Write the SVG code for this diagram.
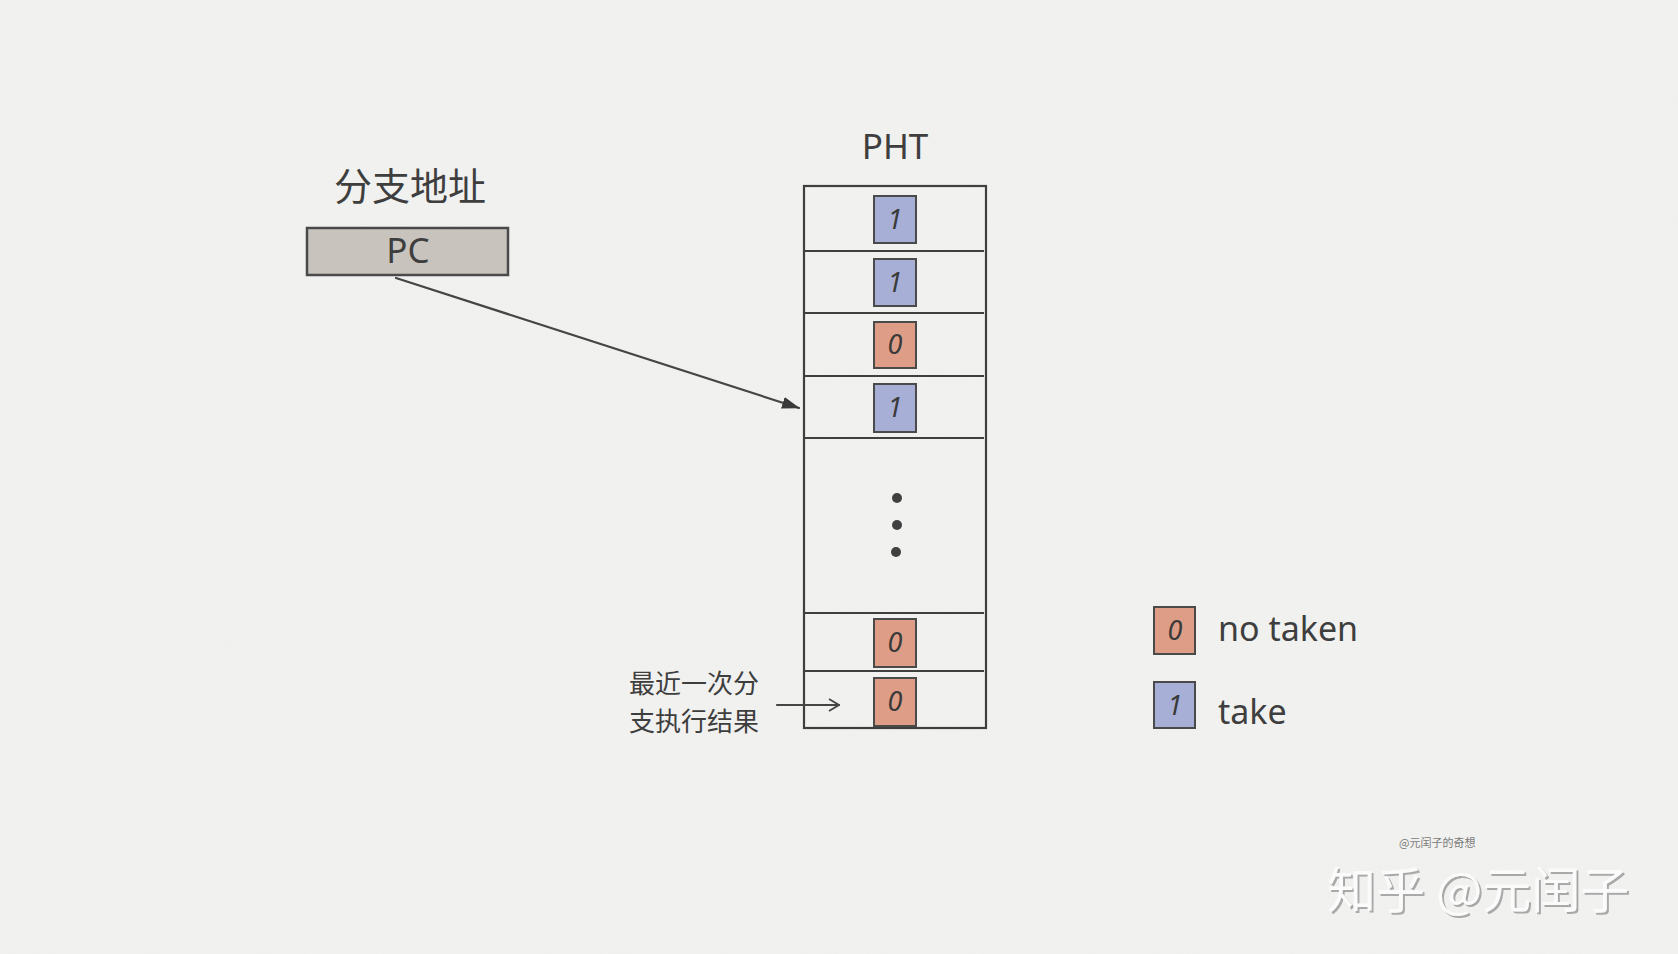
<svg xmlns="http://www.w3.org/2000/svg" width="1678" height="954" viewBox="0 0 1678 954">
<defs>
<style>
.txt{fill:#3e3e3e;font-family:"Noto Sans","Liberation Sans",sans-serif;}
.cjk{fill:#3e3e3e;font-family:"Noto Sans CJK SC","Noto Sans",sans-serif;}
.ln{stroke:#454545;stroke-width:2.2;fill:none;stroke-linecap:round;}
.sep{stroke:#3f3f3f;stroke-width:2.2;fill:none;}
.b1{fill:#a7afd7;stroke:#4a4a4a;stroke-width:2;}
.b0{fill:#de9d86;stroke:#4a4a4a;stroke-width:2;}
.dig{fill:#3a3a3a;font-family:"Noto Sans","Liberation Sans",sans-serif;font-style:italic;font-size:27px;text-anchor:middle;}
.wm{font-family:"Noto Sans CJK SC","Noto Sans",sans-serif;}
</style>
<marker id="tri" viewBox="0 0 18 12" refX="17" refY="6" markerWidth="18" markerHeight="12" markerUnits="userSpaceOnUse" orient="auto">
<path d="M0,0 L18,6 L0,12 Z" fill="#3a3a3a"/>
</marker>
<marker id="open" viewBox="0 0 12 14" refX="11" refY="7" markerWidth="12" markerHeight="14" markerUnits="userSpaceOnUse" orient="auto">
<path d="M1,1 L11,7 L1,13" fill="none" stroke="#454545" stroke-width="1.8"/>
</marker>
<filter id="paper" x="0" y="0" width="100%" height="100%">
<feTurbulence type="fractalNoise" baseFrequency="0.9" numOctaves="2" seed="3" result="n"/>
<feColorMatrix in="n" type="matrix" values="0 0 0 0 0.5  0 0 0 0 0.5  0 0 0 0 0.5  0 0 0 0.05 0"/>
</filter>
<filter id="shadow" x="-5%" y="-20%" width="110%" height="140%">
<feDropShadow dx="2" dy="2" stdDeviation="0.6" flood-color="#8a8a8a" flood-opacity="0.7"/>
</filter>
</defs>
<rect width="1678" height="954" fill="#f2f2f0"/>
<rect width="1678" height="954" filter="url(#paper)"/>

<g id="addr">
<text class="cjk" x="334" y="200" font-size="38">分支地址</text>
<rect x="307" y="228" width="201" height="47" fill="#c8c3bd" stroke="#4a4a4a" stroke-width="2.5"/>
<text class="txt" x="408" y="263" font-size="35" text-anchor="middle">PC</text>
</g>

<g id="pht">
<text class="txt" x="895" y="159" font-size="35" text-anchor="middle">PHT</text>
<rect x="804" y="186" width="182" height="542" fill="none" stroke="#3f3f3f" stroke-width="2.2"/>
<path class="sep" d="M805,251 H984 M805,313 H984 M805,376 H984 M805,438 H984 M805,613 H984 M805,671 H984"/>
<rect class="b1" x="874" y="196" width="42" height="47"/>
<text class="dig" x="895" y="229">1</text>
<rect class="b1" x="874" y="259" width="42" height="47"/>
<text class="dig" x="895" y="292">1</text>
<rect class="b0" x="874" y="322" width="42" height="46"/>
<text class="dig" x="895" y="354">0</text>
<rect class="b1" x="874" y="384" width="42" height="48"/>
<text class="dig" x="895" y="417">1</text>
<circle cx="897" cy="498" r="5" fill="#404040"/>
<circle cx="897" cy="525" r="5" fill="#404040"/>
<circle cx="896" cy="552" r="5" fill="#404040"/>
<rect class="b0" x="874" y="619" width="42" height="48"/>
<text class="dig" x="895" y="652">0</text>
<rect class="b0" x="874" y="678" width="42" height="48"/>
<text class="dig" x="895" y="711">0</text>
</g>

<g id="note">
<text class="cjk" x="629" y="693" font-size="26">最近一次分</text>
<text class="cjk" x="629" y="731" font-size="26">支执行结果</text>
</g>

<g id="legend">
<rect class="b0" x="1154" y="607" width="41" height="47"/>
<text class="dig" x="1175" y="640">0</text>
<text class="txt" x="1218" y="641" font-size="34">no taken</text>
<rect class="b1" x="1154" y="682" width="41" height="46"/>
<text class="dig" x="1175" y="715">1</text>
<text class="txt" x="1218" y="724" font-size="34">take</text>
</g>

<g id="connectors">
<line class="ln" x1="396" y1="278" x2="799" y2="408" marker-end="url(#tri)"/>
<line class="ln" x1="777" y1="705" x2="839" y2="705" stroke-width="1.8" marker-end="url(#open)"/>
</g>

<g id="watermark">
<text class="wm" x="1399" y="847" font-size="11" fill="#7a7a7a">@元闰子的奇想</text>
<text class="wm" x="1327" y="908" font-size="49" fill="#fbfbfb" filter="url(#shadow)">知乎 @元闰子</text>
</g>
</svg>
